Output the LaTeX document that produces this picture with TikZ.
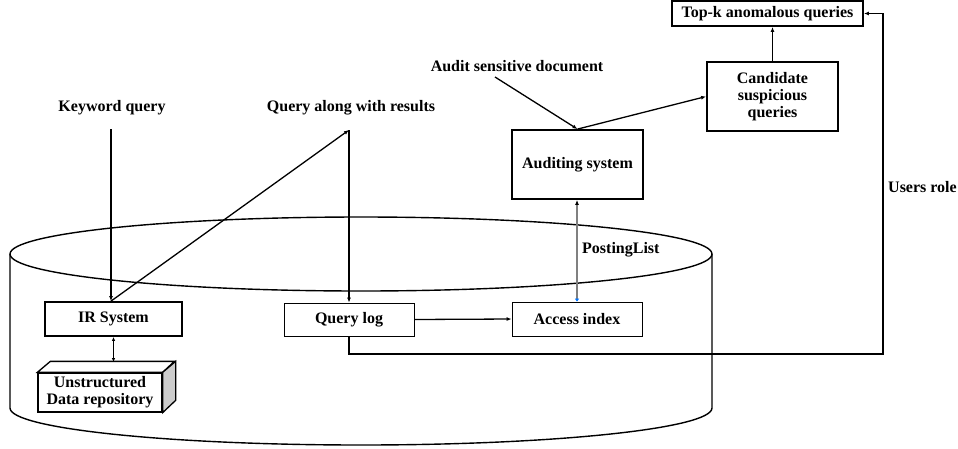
\documentclass[tikz,border=0pt]{standalone}
\usepackage{fontspec}
\setmainfont{Liberation Serif}
\usetikzlibrary{arrows.meta}
\begin{document}
\begin{tikzpicture}[x=1pt,y=-1pt,
  font=\fontsize{16}{17}\selectfont\bfseries,
  thickbox/.style={draw, line width=1.8pt, inner sep=0pt, align=center},
  thinbox/.style={draw, line width=0.8pt, inner sep=0pt, align=center},
  lbl/.style={inner sep=0pt},
  arr/.style={line width=1.3pt, -{Latex[length=5pt,width=4pt]}},
  cyl/.style={line width=1.4pt}]
\useasboundingbox (0,0) rectangle (958,448);
% cylinder
\draw[cyl] (10,254) -- (10,408) .. controls (10,428.4) and (167.1,445) .. (361,445)
  .. controls (554.9,445) and (712,428.4) .. (712,408) -- (712,254);
\draw[cyl] (361,254) ellipse [x radius=351, y radius=37];
% boxes
\node[thickbox, minimum width=137pt, minimum height=34pt] (ir) at (113.5,319) {IR System};
\node[thinbox, minimum width=130pt, minimum height=33pt] (ql) at (349,319.5) {Query log};
\node[thinbox, minimum width=130pt, minimum height=34pt] (ai) at (577,319) {Access index};
\node[thickbox, minimum width=131pt, minimum height=69pt] (aud) at (577.5,164.5) {Auditing system};
\node[thickbox, minimum width=131pt, minimum height=69pt] (cand) at (772.5,96.5) {Candidate\\suspicious\\queries};
\node[thickbox, minimum width=191pt, minimum height=25pt] (topk) at (767.5,13.5) {Top-k anomalous queries};
% cuboid repository
\node[draw, line width=1.3pt, fill=white, inner sep=0pt, align=center, minimum width=124pt, minimum height=39pt] (repo) at (100,392.5) {Unstructured\\Data repository};
\draw[line width=1.3pt, fill=white] (repo.north west) -- ++(13,-11) -- ++(124,0) -- (repo.north east) -- cycle;
\draw[line width=1.3pt, fill=black!20] (repo.north east) -- ++(13,-11) -- ++(0,39) -- (repo.south east) -- cycle;
\coordinate (repotop) at (113.5,362);
% labels
\node[lbl] (kw) at (112,108) {Keyword query};
\node[lbl] (qr) at (351,108) {Query along with results};
\node[lbl] (ad) at (517,66) {Audit sensitive document};
\node[lbl, anchor=west] (ur) at (888,187) {Users role};
\node[lbl, anchor=west] (pl) at (582,250) {PostingList};
% coordinates
\coordinate (kwtop) at (111,129);
\coordinate (qtop) at (349,130);
\coordinate (adtop) at (495,77);
\coordinate (loop) at (883,354);
% connectors
\draw[arr] (kwtop) -- (kwtop |- ir.north);
\draw[arr] (kwtop |- ir.north) -- (qtop);
\draw[arr] (qtop) -- (ql.north);
\draw[line width=1pt, {Latex[length=4pt,width=3.5pt]}-{Latex[length=4pt,width=3.5pt]}] (ir.south) -- (repotop);
\draw[arr] (ql.east) -- (ai.west);
\draw[arr] (adtop) -- (aud.north);
\draw[arr] (aud.north) -- (cand.west);
\draw[arr] (cand.north) -- (cand.north |- topk.south);
\draw[arr] (ql.south) |- (loop) |- (topk.east);
\draw[line width=1.2pt, black!50, {Triangle[length=3pt,width=4pt,color=blue!55!cyan]}-{Latex[length=5pt,width=4pt,color=black]}] (ai.north) -- (ai.north |- aud.south);
\end{tikzpicture}
\end{document}
